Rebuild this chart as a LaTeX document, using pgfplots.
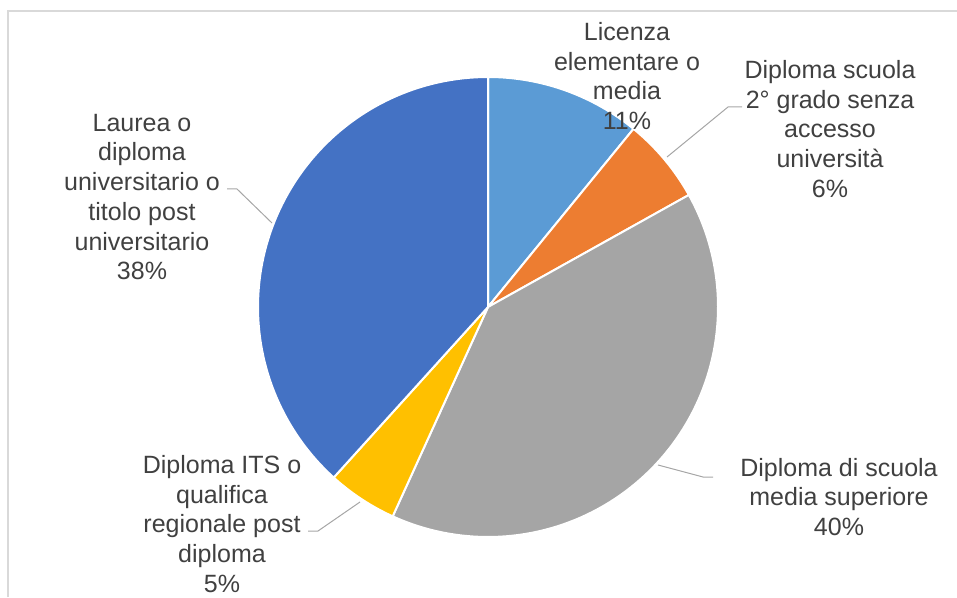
\documentclass[border=0pt]{standalone}
\usepackage{pgfplots}
\pgfplotsset{compat=1.18}
\usepackage{fontspec}
\setmainfont{Liberation Sans}
\definecolor{cA}{HTML}{5B9BD5}
\definecolor{cB}{HTML}{ED7D31}
\definecolor{cC}{HTML}{A5A5A5}
\definecolor{cD}{HTML}{FFC000}
\definecolor{cE}{HTML}{4472C4}
\definecolor{txt}{HTML}{404040}
\definecolor{lead}{HTML}{A6A6A6}
\definecolor{frame}{HTML}{D9D9D9}
\begin{document}
\begin{tikzpicture}[lbl/.style={font=\fontsize{25}{29.7}\selectfont, text=txt, align=center, inner sep=0pt}]
% slice values (percent), clockwise from 12 o'clock
\def\vA{10.9}\def\vB{6.0}\def\vC{39.9}\def\vD{4.9}\def\vE{38.3}
\def\cx{488}\def\cy{290}\def\R{230}
\pgfmathsetmacro\aA{90}
\pgfmathsetmacro\aB{\aA-3.6*\vA}
\pgfmathsetmacro\aC{\aB-3.6*\vB}
\pgfmathsetmacro\aD{\aC-3.6*\vC}
\pgfmathsetmacro\aE{\aD-3.6*\vD}
\pgfmathsetmacro\aF{\aE-3.6*\vE}
\begin{axis}[hide axis, scale only axis, width=957pt, height=597pt,
  xmin=0, xmax=957, ymin=0, ymax=597, clip=false, samples=90]
\addplot[fill=cA, draw=white, line width=2pt, domain=\aB:\aA] ({\cx+\R*cos(x)},{\cy+\R*sin(x)}) -- (axis cs:\cx,\cy) -- cycle;
\addplot[fill=cB, draw=white, line width=2pt, domain=\aC:\aB] ({\cx+\R*cos(x)},{\cy+\R*sin(x)}) -- (axis cs:\cx,\cy) -- cycle;
\addplot[fill=cC, draw=white, line width=2pt, domain=\aD:\aC] ({\cx+\R*cos(x)},{\cy+\R*sin(x)}) -- (axis cs:\cx,\cy) -- cycle;
\addplot[fill=cD, draw=white, line width=2pt, domain=\aE:\aD] ({\cx+\R*cos(x)},{\cy+\R*sin(x)}) -- (axis cs:\cx,\cy) -- cycle;
\addplot[fill=cE, draw=white, line width=2pt, domain=\aF:\aE] ({\cx+\R*cos(x)},{\cy+\R*sin(x)}) -- (axis cs:\cx,\cy) -- cycle;
% frame
\draw[frame, line width=1.3pt] (axis cs:8,0) -- (axis cs:8,586) -- (axis cs:957,586);
% leader lines
\draw[lead, line width=1pt] (axis cs:667,440) -- (axis cs:728,490) -- (axis cs:742,490);
\draw[lead, line width=1pt] (axis cs:658,132) -- (axis cs:703,120) -- (axis cs:713,120);
\draw[lead, line width=1pt] (axis cs:360,95) -- (axis cs:318,66) -- (axis cs:308,66);
\draw[lead, line width=1pt] (axis cs:272,374) -- (axis cs:237,408) -- (axis cs:227,408);
% labels
\node[lbl] at (axis cs:627,521) {Licenza\\elementare o\\media\\11\%};
\node[lbl] at (axis cs:830,468) {Diploma scuola\\2° grado senza\\accesso\\università\\6\%};
\node[lbl] at (axis cs:839,100) {Diploma di scuola\\media superiore\\40\%};
\node[lbl] at (axis cs:222,73) {Diploma ITS o\\qualifica\\regionale post\\diploma\\5\%};
\node[lbl] at (axis cs:142,400) {Laurea o\\diploma\\universitario o\\titolo post\\universitario\\38\%};
\end{axis}
\pgfresetboundingbox
\path[use as bounding box] (current axis.south west) rectangle (current axis.north east);
\end{tikzpicture}
\end{document}
